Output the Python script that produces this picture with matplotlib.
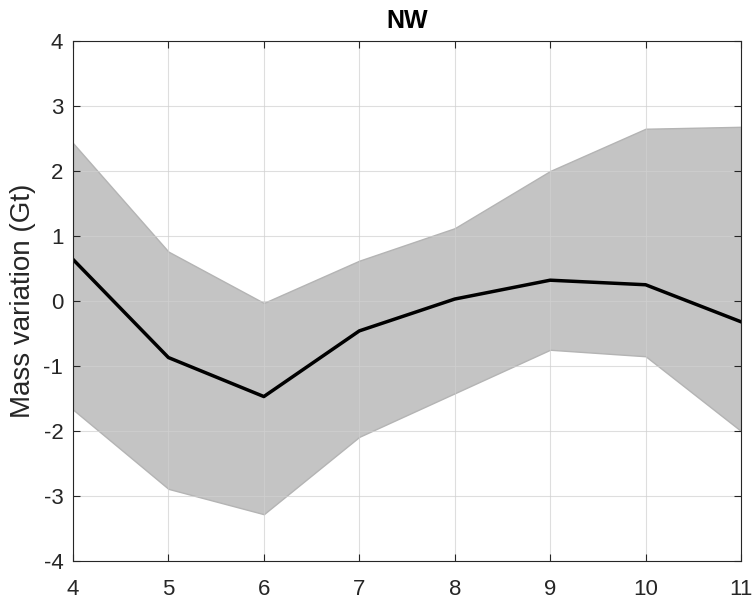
import matplotlib
matplotlib.use("Agg")
import matplotlib.pyplot as plt

plt.rcParams['font.family'] = ['Liberation Sans', 'DejaVu Sans']
plt.rcParams['axes.unicode_minus'] = False

months = [4, 5, 6, 7, 8, 9, 10, 11]
mass_mean = [0.64, -0.87, -1.47, -0.46, 0.03, 0.32, 0.25, -0.32]
mass_upper = [2.43, 0.76, -0.03, 0.62, 1.12, 2.00, 2.65, 2.68]
mass_lower = [-1.67, -2.89, -3.28, -2.09, -1.42, -0.75, -0.85, -2.00]
xticks = [4, 5, 6, 7, 8, 9, 10, 11]
yticks = [-4, -3, -2, -1, 0, 1, 2, 3, 4]

fig = plt.figure(figsize=(7.54, 6.02), dpi=100)
ax = fig.add_axes([0.0968, 0.0681, 0.886, 0.8638])

ax.fill_between(months, mass_lower, mass_upper, facecolor='#c4c4c4',
                edgecolor='#b4b4b4', linewidth=1.0, zorder=2)
ax.plot(months, mass_mean, color='black', linewidth=2.5, zorder=3)

ax.set_xlim(4, 11)
ax.set_ylim(-4, 4)
ax.set_xticks(xticks)
ax.set_yticks(yticks)
ax.grid(True, color='#d0d0d0', linewidth=0.8, zorder=4, alpha=0.7)
ax.set_axisbelow(False)

ax.tick_params(direction='in', length=5, width=0.8, colors='#262626',
               labelsize=16, top=True, right=True, pad=7)
ax.tick_params(axis='x', pad=13)
for side in ax.spines.values():
    side.set_color('#262626')
    side.set_linewidth(0.8)
    side.set_zorder(5)

ax.set_ylabel('Mass variation (Gt)', fontsize=20, color='#262626', labelpad=5)
ax.set_title('NW', fontsize=18, fontweight='bold', color='black', pad=9)

fig.savefig('out.png', dpi=100)
